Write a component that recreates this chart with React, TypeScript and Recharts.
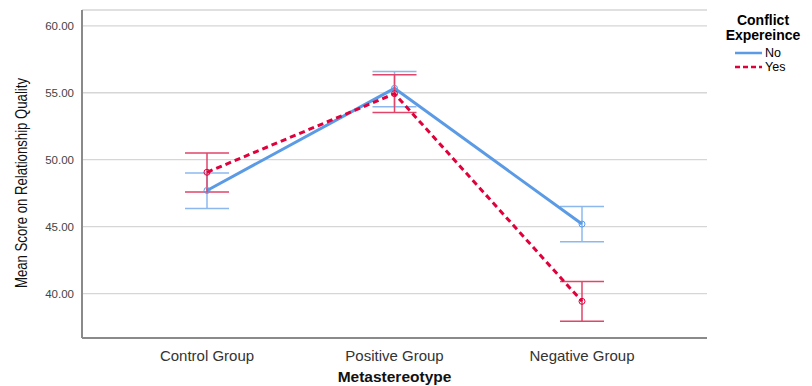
import React from "react";
import { ComposedChart, Line, XAxis, YAxis, CartesianGrid, ErrorBar, Label } from "recharts";

const categories = ["Control Group", "Positive Group", "Negative Group"];
const noMeans = [47.7, 55.33, 45.19];
const noLower = [46.35, 53.96, 43.87];
const noUpper = [49.0, 56.58, 46.5];
const yesMeans = [49.06, 54.93, 39.42];
const yesLower = [47.59, 53.53, 37.93];
const yesUpper = [50.49, 56.35, 40.9];
const yTicks = [40, 45, 50, 55, 60];

const data = categories.map((c, i) => ({
  name: c,
  No: noMeans[i],
  Yes: yesMeans[i],
  noErr: [noMeans[i] - noLower[i], noUpper[i] - noMeans[i]],
  yesErr: [yesMeans[i] - yesLower[i], yesUpper[i] - yesMeans[i]],
}));

const BLUE = "#5B9BE6";
const BLUE_ERR = "#8DB8EE";
const RED = "#E0003C";
const RED_ERR = "#E0456A";
const FONT = "Liberation Sans, Arial, sans-serif";

const Dot = (color: string) => (props: any) => {
  const { cx, cy, key } = props;
  return <circle key={key} cx={cx} cy={cy} r={3} fill="none" stroke={color} strokeWidth={1} />;
};

const YLabel = (props: any) => {
  const vb = props.viewBox || {};
  const cy = (vb.y ?? 10) + (vb.height ?? 328) / 2 + 9;
  return (
    <text
      x={21}
      y={cy}
      transform={`rotate(-90, 21, ${cy})`}
      textAnchor="middle"
      dominantBaseline="central"
      fontSize={16}
      fill="#111"
      fontFamily={FONT}
      textLength={210}
      lengthAdjust="spacingAndGlyphs"
    >
      Mean Score on Relationship Quality
    </text>
  );
};

export default function App() {
  return (
    <div style={{ position: "absolute", left: 0, top: 0, width: 812, height: 386, background: "#fff" }}>
      <ComposedChart
        width={812}
        height={386}
        data={data}
        margin={{ top: 10, right: 105, bottom: 0, left: 0 }}
      >
        <CartesianGrid horizontal vertical={false} stroke="#d6d6d6" strokeWidth={1.3} />
        <XAxis
          dataKey="name"
          padding={{ left: 125, right: 125 }}
          tickLine={false}
          axisLine={{ stroke: "#6e6e6e", strokeWidth: 1.5 }}
          tick={{ fill: "#333", fontSize: 15, fontFamily: FONT }}
          tickMargin={6}
          height={48}
        >
          <Label
            value="Metastereotype"
            position="insideBottom"
            offset={4}
            fill="#111"
            fontSize={15.5}
            fontWeight="bold"
            fontFamily={FONT}
          />
        </XAxis>
        <YAxis
          type="number"
          domain={[36.68, 61.18]}
          ticks={yTicks}
          allowDataOverflow
          tickFormatter={(v: number) => v.toFixed(2)}
          tickLine={false}
          tickSize={0}
          tickMargin={8}
          width={82}
          axisLine={{ stroke: "#8a8a8a", strokeWidth: 2 }}
          tick={{ fill: "#444", fontSize: 11.5, fontFamily: FONT }}
        >
          <Label content={YLabel} />
        </YAxis>
        <Line
          dataKey="No"
          stroke={BLUE}
          strokeWidth={3}
          dot={Dot(BLUE)}
          activeDot={false}
          isAnimationActive={false}
        >
          <ErrorBar dataKey="noErr" width={22} stroke={BLUE_ERR} strokeWidth={1.5} />
        </Line>
        <Line
          dataKey="Yes"
          stroke={RED}
          strokeWidth={3}
          strokeDasharray="6 4"
          dot={Dot(RED)}
          activeDot={false}
          isAnimationActive={false}
        >
          <ErrorBar dataKey="yesErr" width={22} stroke={RED_ERR} strokeWidth={1.5} />
        </Line>
      </ComposedChart>
      <div
        style={{
          position: "absolute",
          left: 713,
          top: 13,
          width: 100,
          fontFamily: FONT,
          color: "#000",
        }}
      >
        <div style={{ textAlign: "center", fontWeight: "bold", fontSize: 14, lineHeight: "15px" }}>Conflict</div>
        <div style={{ textAlign: "center", fontWeight: "bold", fontSize: 14, lineHeight: "15px" }}>Expereince</div>
        <div style={{ display: "flex", alignItems: "center", marginTop: 3, marginLeft: 22, fontSize: 12.5, lineHeight: "14px" }}>
          <svg width={30} height={6}><line x1={0} y1={3} x2={27} y2={3} stroke={BLUE} strokeWidth={2.5} /></svg>
          <span>No</span>
        </div>
        <div style={{ display: "flex", alignItems: "center", marginLeft: 22, fontSize: 12.5, lineHeight: "14px" }}>
          <svg width={30} height={6}><line x1={0} y1={3} x2={27} y2={3} stroke={RED} strokeWidth={2.5} strokeDasharray="5 3" /></svg>
          <span>Yes</span>
        </div>
      </div>
    </div>
  );
}
